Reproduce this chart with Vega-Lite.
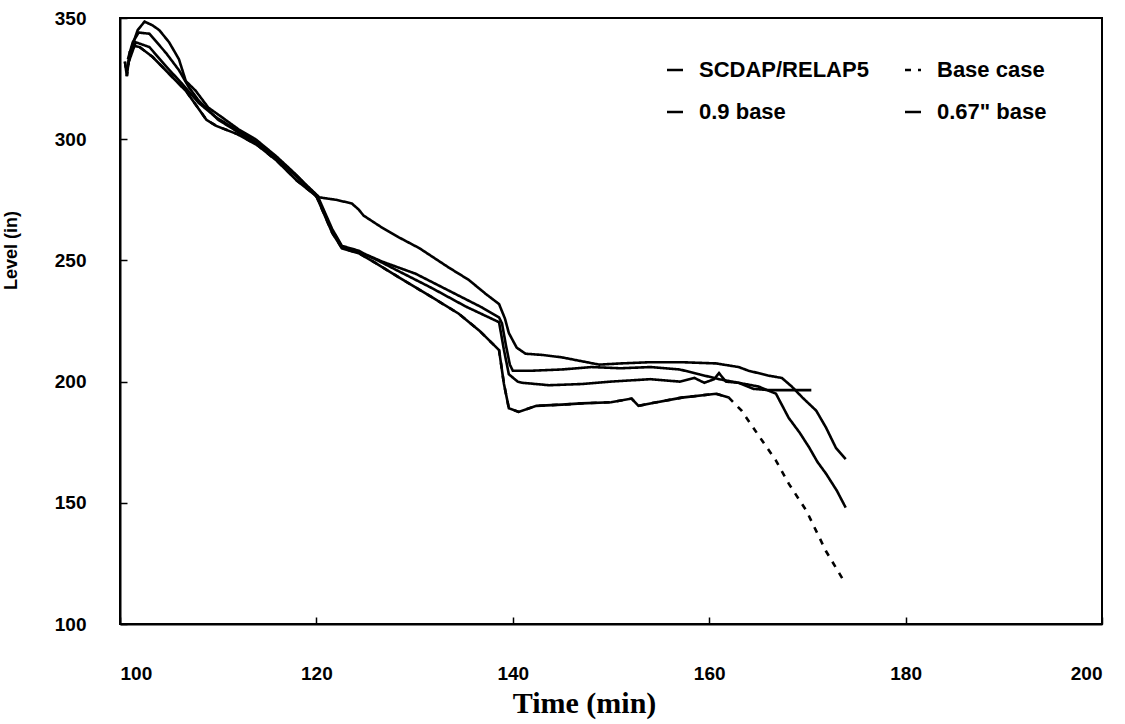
{
  "$schema": "https://vega.github.io/schema/vega-lite/v6.json",
  "width": 982,
  "height": 606,
  "autosize": {"type": "none"},
  "padding": {"left": 120, "top": 18, "right": 23, "bottom": 100},
  "background": "white",
  "config": {
    "view": {"stroke": "black", "strokeWidth": 2},
    "axis": {
      "grid": false,
      "domainColor": "black",
      "domainWidth": 2,
      "tickColor": "black",
      "tickWidth": 1.5,
      "labelColor": "black",
      "labelFont": "Liberation Sans",
      "labelFontWeight": "bold",
      "labelFontSize": 19,
      "titleColor": "black"
    }
  },
  "data": {
    "values": [
      {"s": "0.67\" base", "t": 100.8, "v": 330},
      {"s": "0.67\" base", "t": 101.2, "v": 338},
      {"s": "0.67\" base", "t": 101.8, "v": 345},
      {"s": "0.67\" base", "t": 102.5, "v": 348.5},
      {"s": "0.67\" base", "t": 103.3, "v": 347},
      {"s": "0.67\" base", "t": 104, "v": 345},
      {"s": "0.67\" base", "t": 105, "v": 340},
      {"s": "0.67\" base", "t": 106, "v": 333},
      {"s": "0.67\" base", "t": 106.7, "v": 324},
      {"s": "0.67\" base", "t": 107.7, "v": 320},
      {"s": "0.67\" base", "t": 109, "v": 313},
      {"s": "0.67\" base", "t": 110.4, "v": 309},
      {"s": "0.67\" base", "t": 112.1, "v": 304},
      {"s": "0.67\" base", "t": 113.8, "v": 300},
      {"s": "0.67\" base", "t": 115.9, "v": 293},
      {"s": "0.67\" base", "t": 117.5, "v": 287},
      {"s": "0.67\" base", "t": 119, "v": 281},
      {"s": "0.67\" base", "t": 120.3, "v": 276},
      {"s": "0.67\" base", "t": 122, "v": 275},
      {"s": "0.67\" base", "t": 123.6, "v": 273.5},
      {"s": "0.67\" base", "t": 124.3, "v": 271},
      {"s": "0.67\" base", "t": 124.8, "v": 268.5},
      {"s": "0.67\" base", "t": 126.5, "v": 264},
      {"s": "0.67\" base", "t": 128.4, "v": 259.5},
      {"s": "0.67\" base", "t": 130.5, "v": 255},
      {"s": "0.67\" base", "t": 133.5, "v": 247},
      {"s": "0.67\" base", "t": 135.5, "v": 242},
      {"s": "0.67\" base", "t": 137.3, "v": 236},
      {"s": "0.67\" base", "t": 138.6, "v": 232},
      {"s": "0.67\" base", "t": 139.2, "v": 226},
      {"s": "0.67\" base", "t": 139.6, "v": 220},
      {"s": "0.67\" base", "t": 140.4, "v": 214},
      {"s": "0.67\" base", "t": 141.3, "v": 211.5},
      {"s": "0.67\" base", "t": 143, "v": 211},
      {"s": "0.67\" base", "t": 145, "v": 210},
      {"s": "0.67\" base", "t": 148.8, "v": 207},
      {"s": "0.67\" base", "t": 151, "v": 207.5},
      {"s": "0.67\" base", "t": 154, "v": 208},
      {"s": "0.67\" base", "t": 157.2, "v": 208},
      {"s": "0.67\" base", "t": 160.7, "v": 207.5},
      {"s": "0.67\" base", "t": 163, "v": 206},
      {"s": "0.67\" base", "t": 164, "v": 204.5},
      {"s": "0.67\" base", "t": 166, "v": 202.5},
      {"s": "0.67\" base", "t": 167.4, "v": 201.5},
      {"s": "0.67\" base", "t": 168.4, "v": 198},
      {"s": "0.67\" base", "t": 169.5, "v": 193.4},
      {"s": "0.67\" base", "t": 170.9, "v": 188},
      {"s": "0.67\" base", "t": 171.9, "v": 181},
      {"s": "0.67\" base", "t": 172.9, "v": 172.7},
      {"s": "0.67\" base", "t": 173.9, "v": 168},

      {"s": "SCDAP/RELAP5", "t": 100.8, "v": 333},
      {"s": "SCDAP/RELAP5", "t": 101.3, "v": 340},
      {"s": "SCDAP/RELAP5", "t": 101.9, "v": 344},
      {"s": "SCDAP/RELAP5", "t": 103, "v": 343.5},
      {"s": "SCDAP/RELAP5", "t": 104.7, "v": 335.5},
      {"s": "SCDAP/RELAP5", "t": 106, "v": 328.5},
      {"s": "SCDAP/RELAP5", "t": 107, "v": 321.5},
      {"s": "SCDAP/RELAP5", "t": 108, "v": 316},
      {"s": "SCDAP/RELAP5", "t": 110, "v": 308},
      {"s": "SCDAP/RELAP5", "t": 112, "v": 303},
      {"s": "SCDAP/RELAP5", "t": 114, "v": 298},
      {"s": "SCDAP/RELAP5", "t": 116, "v": 292},
      {"s": "SCDAP/RELAP5", "t": 118, "v": 285},
      {"s": "SCDAP/RELAP5", "t": 120.3, "v": 275},
      {"s": "SCDAP/RELAP5", "t": 121.6, "v": 263},
      {"s": "SCDAP/RELAP5", "t": 122.6, "v": 256},
      {"s": "SCDAP/RELAP5", "t": 124.3, "v": 254},
      {"s": "SCDAP/RELAP5", "t": 125, "v": 252.5},
      {"s": "SCDAP/RELAP5", "t": 126.7, "v": 249.5},
      {"s": "SCDAP/RELAP5", "t": 130.1, "v": 244.5},
      {"s": "SCDAP/RELAP5", "t": 133.5, "v": 237.5},
      {"s": "SCDAP/RELAP5", "t": 136.9, "v": 230.5},
      {"s": "SCDAP/RELAP5", "t": 138.6, "v": 226.5},
      {"s": "SCDAP/RELAP5", "t": 138.9, "v": 224},
      {"s": "SCDAP/RELAP5", "t": 139.3, "v": 215},
      {"s": "SCDAP/RELAP5", "t": 139.7, "v": 207},
      {"s": "SCDAP/RELAP5", "t": 140, "v": 204.5},
      {"s": "SCDAP/RELAP5", "t": 142, "v": 204.5},
      {"s": "SCDAP/RELAP5", "t": 145, "v": 205},
      {"s": "SCDAP/RELAP5", "t": 148, "v": 206},
      {"s": "SCDAP/RELAP5", "t": 151, "v": 205.5},
      {"s": "SCDAP/RELAP5", "t": 154, "v": 206},
      {"s": "SCDAP/RELAP5", "t": 157, "v": 205},
      {"s": "SCDAP/RELAP5", "t": 159, "v": 203},
      {"s": "SCDAP/RELAP5", "t": 161, "v": 201},
      {"s": "SCDAP/RELAP5", "t": 163, "v": 199.5},
      {"s": "SCDAP/RELAP5", "t": 164.5, "v": 197},
      {"s": "SCDAP/RELAP5", "t": 166, "v": 196.5},
      {"s": "SCDAP/RELAP5", "t": 168, "v": 196.5},
      {"s": "SCDAP/RELAP5", "t": 170.4, "v": 196.5},

      {"s": "0.9 base", "t": 100.9, "v": 332},
      {"s": "0.9 base", "t": 101.6, "v": 340},
      {"s": "0.9 base", "t": 103, "v": 338},
      {"s": "0.9 base", "t": 104.7, "v": 330},
      {"s": "0.9 base", "t": 106.3, "v": 323},
      {"s": "0.9 base", "t": 108, "v": 315},
      {"s": "0.9 base", "t": 109.8, "v": 309},
      {"s": "0.9 base", "t": 112, "v": 303.5},
      {"s": "0.9 base", "t": 114, "v": 298.5},
      {"s": "0.9 base", "t": 116, "v": 292},
      {"s": "0.9 base", "t": 118, "v": 284.5},
      {"s": "0.9 base", "t": 120, "v": 277},
      {"s": "0.9 base", "t": 121.6, "v": 262},
      {"s": "0.9 base", "t": 122.6, "v": 255.5},
      {"s": "0.9 base", "t": 124.3, "v": 253.5},
      {"s": "0.9 base", "t": 126, "v": 250.5},
      {"s": "0.9 base", "t": 128.4, "v": 245.5},
      {"s": "0.9 base", "t": 131.8, "v": 238.5},
      {"s": "0.9 base", "t": 135.2, "v": 231},
      {"s": "0.9 base", "t": 138.6, "v": 224.5},
      {"s": "0.9 base", "t": 139.1, "v": 213},
      {"s": "0.9 base", "t": 139.6, "v": 203},
      {"s": "0.9 base", "t": 140.5, "v": 200},
      {"s": "0.9 base", "t": 141, "v": 199.5},
      {"s": "0.9 base", "t": 143.7, "v": 198.5},
      {"s": "0.9 base", "t": 147, "v": 199},
      {"s": "0.9 base", "t": 150, "v": 200},
      {"s": "0.9 base", "t": 152, "v": 200.5},
      {"s": "0.9 base", "t": 154, "v": 201},
      {"s": "0.9 base", "t": 157, "v": 200},
      {"s": "0.9 base", "t": 158.5, "v": 201.5},
      {"s": "0.9 base", "t": 159.5, "v": 199.5},
      {"s": "0.9 base", "t": 160.5, "v": 201},
      {"s": "0.9 base", "t": 161, "v": 203.5},
      {"s": "0.9 base", "t": 161.7, "v": 200},
      {"s": "0.9 base", "t": 163, "v": 199.5},
      {"s": "0.9 base", "t": 165, "v": 198},
      {"s": "0.9 base", "t": 166.8, "v": 195},
      {"s": "0.9 base", "t": 168.1, "v": 185},
      {"s": "0.9 base", "t": 169.2, "v": 179},
      {"s": "0.9 base", "t": 170.2, "v": 172.7},
      {"s": "0.9 base", "t": 171, "v": 167},
      {"s": "0.9 base", "t": 171.9, "v": 162},
      {"s": "0.9 base", "t": 173, "v": 155},
      {"s": "0.9 base", "t": 173.9, "v": 148},

      {"s": "Base case", "t": 100.5, "v": 332},
      {"s": "Base case", "t": 100.7, "v": 326},
      {"s": "Base case", "t": 101, "v": 336},
      {"s": "Base case", "t": 101.5, "v": 338.5},
      {"s": "Base case", "t": 102, "v": 338},
      {"s": "Base case", "t": 103.3, "v": 334},
      {"s": "Base case", "t": 105, "v": 327},
      {"s": "Base case", "t": 106.7, "v": 320},
      {"s": "Base case", "t": 108.8, "v": 308},
      {"s": "Base case", "t": 109.8, "v": 305.5},
      {"s": "Base case", "t": 112, "v": 302},
      {"s": "Base case", "t": 114, "v": 297.5},
      {"s": "Base case", "t": 116, "v": 291},
      {"s": "Base case", "t": 118, "v": 283},
      {"s": "Base case", "t": 120, "v": 276.5},
      {"s": "Base case", "t": 121.6, "v": 261.5},
      {"s": "Base case", "t": 122.6, "v": 255},
      {"s": "Base case", "t": 124.3, "v": 253},
      {"s": "Base case", "t": 126, "v": 249},
      {"s": "Base case", "t": 128.4, "v": 243},
      {"s": "Base case", "t": 131.8, "v": 234.7},
      {"s": "Base case", "t": 134.5, "v": 228},
      {"s": "Base case", "t": 136.6, "v": 221},
      {"s": "Base case", "t": 138.6, "v": 213},
      {"s": "Base case", "t": 139.1, "v": 199},
      {"s": "Base case", "t": 139.6, "v": 189},
      {"s": "Base case", "t": 140.6, "v": 187.5},
      {"s": "Base case", "t": 142.4, "v": 190},
      {"s": "Base case", "t": 145, "v": 190.5},
      {"s": "Base case", "t": 147, "v": 191},
      {"s": "Base case", "t": 150, "v": 191.5},
      {"s": "Base case", "t": 152.1, "v": 193},
      {"s": "Base case", "t": 152.8, "v": 190},
      {"s": "Base case", "t": 154, "v": 191},
      {"s": "Base case", "t": 157.2, "v": 193.4},
      {"s": "Base case", "t": 160.7, "v": 195},
      {"s": "Base case", "t": 162, "v": 193.4},
      {"s": "Base case", "t": 163.3, "v": 188},
      {"s": "Base case", "t": 165.4, "v": 175.6},
      {"s": "Base case", "t": 166.8, "v": 167.4},
      {"s": "Base case", "t": 168.1, "v": 157.9},
      {"s": "Base case", "t": 169.9, "v": 146.7},
      {"s": "Base case", "t": 171.9, "v": 130},
      {"s": "Base case", "t": 173.9, "v": 116.5}
    ]
  },
  "layer": [
    {
      "mark": {"type": "line", "color": "black", "strokeWidth": 2.6, "interpolate": "linear"},
      "encoding": {
        "x": {
          "field": "t", "type": "quantitative",
          "scale": {"domain": [100, 200], "nice": false, "zero": false},
          "axis": {
            "values": [100, 120, 140, 160, 180, 200],
            "tickSize": -7,
            "labelPadding": 47,
            "title": "Time (min)",
            "titleFont": "Liberation Serif",
            "titleFontSize": 30,
            "titleFontWeight": "bold",
            "titleX": 464,
            "titleY": 88,
            "titleBaseline": "alphabetic"
          }
        },
        "y": {
          "field": "v", "type": "quantitative",
          "scale": {"domain": [100, 350], "nice": false, "zero": false},
          "axis": {
            "values": [100, 150, 200, 250, 300, 350],
            "tickSize": -7,
            "labelPadding": 41,
            "title": "Level (in)",
            "titleFont": "Liberation Sans",
            "titleFontSize": 18,
            "titleFontWeight": "bold",
            "titleX": -100,
            "titleY": 232
          }
        },
        "detail": {"field": "s", "type": "nominal"},
        "strokeDash": {
          "field": "s", "type": "nominal",
          "scale": {
            "domain": ["SCDAP/RELAP5", "0.9 base", "Base case", "0.67\" base"],
            "range": [[1, 0], [1, 0], [6, 7], [1, 0]]
          },
          "legend": {
            "title": null,
            "orient": "none",
            "legendX": 544,
            "legendY": 41,
            "columns": 2,
            "columnPadding": 31,
            "rowPadding": 20,
            "padding": 0,
            "symbolType": "stroke",
            "symbolSize": 256,
            "symbolStrokeColor": "black",
            "symbolStrokeWidth": 2.5,
            "labelOffset": 13,
            "labelFont": "Liberation Sans",
            "labelFontWeight": "bold",
            "labelFontSize": 22,
            "labelColor": "black",
            "labelLimit": 300
          }
        }
      }
    },
    {
      "transform": [{"filter": "datum.s == 'Base case' && datum.t <= 162"}],
      "mark": {"type": "line", "color": "black", "strokeWidth": 2.6},
      "encoding": {
        "x": {"field": "t", "type": "quantitative"},
        "y": {"field": "v", "type": "quantitative"}
      }
    }
  ]
}
